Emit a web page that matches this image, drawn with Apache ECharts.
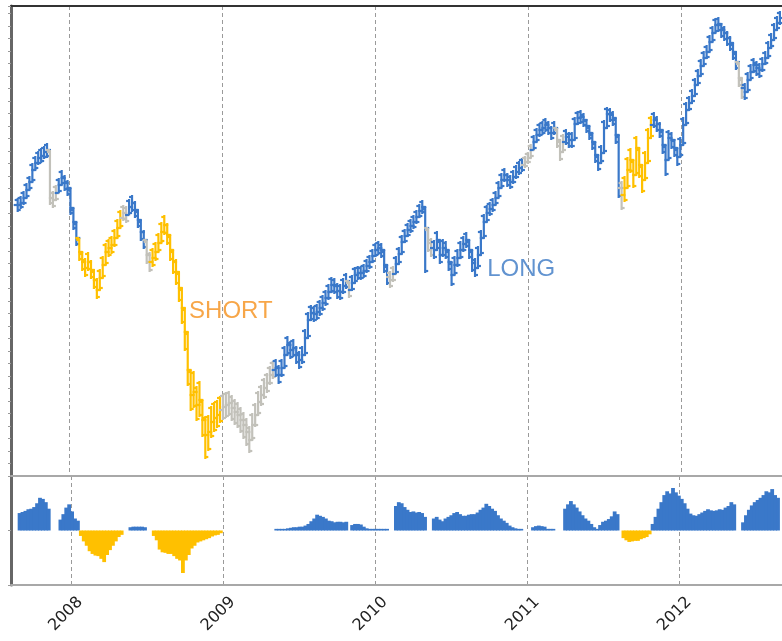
<!DOCTYPE html>
<html lang="en">
<head>
  <meta charset="UTF-8">
  <title>Long / Short</title>
  <style>
    html, body { margin: 0; padding: 0; background: #ffffff; }
    #main { width: 782px; height: 641px; }
  </style>
  <script src="https://cdn.jsdelivr.net/npm/echarts@6/dist/echarts.min.js"></script>
</head>
<body>
  <div id="main"></div>
  <script>
    // one bar per week, first week ends on this Friday
    var firstWeek = '2007-08-31';

    // weekly close / high / low of the index
    var close = [
      2284, 2292, 2312, 2344, 2376, 2424, 2452, 2472, 2480, 2496,
      2504, 2312, 2304, 2332, 2364, 2392, 2372, 2352, 2272, 2216,
      2152, 2096, 2056, 2032, 2056, 2024, 1984, 1944, 1992, 2044,
      2096, 2112, 2124, 2152, 2192, 2232, 2252, 2244, 2276, 2292,
      2264, 2224, 2176, 2144, 2084, 2056, 2072, 2096, 2132, 2176,
      2204, 2164, 2104, 2056, 2016, 1952, 1872, 1776, 1624, 1524,
      1536, 1484, 1504, 1424, 1364, 1376, 1416, 1432, 1444, 1464,
      1476, 1484, 1492, 1472, 1456, 1444, 1424, 1404, 1376, 1344,
      1404, 1444, 1496, 1524, 1552, 1572, 1604, 1624, 1632, 1604,
      1632, 1684, 1724, 1704, 1712, 1684, 1664, 1684, 1752, 1824,
      1852, 1848, 1856, 1872, 1892, 1912, 1936, 1964, 1960, 1940,
      1936, 1960, 1980, 1944, 1972, 2004, 2012, 2012, 2020, 2040,
      2056, 2080, 2104, 2112, 2104, 2044, 1996, 1984, 2008, 2048,
      2088, 2136, 2160, 2184, 2200, 2216, 2236, 2260, 2276, 2192,
      2132, 2112, 2104, 2144, 2084, 2112, 2104, 2056, 2004, 2044,
      2072, 2104, 2128, 2144, 2104, 2052, 2032, 2084, 2152, 2216,
      2252, 2268, 2284, 2312, 2352, 2384, 2404, 2384, 2376, 2396,
      2416, 2432, 2444, 2456, 2472, 2504, 2536, 2564, 2584, 2592,
      2604, 2592, 2572, 2592, 2544, 2496, 2536, 2556, 2544, 2544,
      2608, 2632, 2636, 2624, 2600, 2572, 2536, 2484, 2452, 2492,
      2592, 2648, 2644, 2632, 2564, 2352, 2324, 2352, 2424, 2464,
      2404, 2512, 2444, 2384, 2452, 2552, 2604, 2624, 2608, 2584,
      2524, 2464, 2552, 2544, 2512, 2476, 2524, 2604, 2664, 2692,
      2720, 2764, 2800, 2840, 2872, 2896, 2936, 2972, 3004, 3008,
      2984, 2972, 2952, 2932, 2896, 2856, 2792, 2752, 2736, 2784,
      2816, 2844, 2832, 2824, 2848, 2872, 2912, 2944, 2984, 3012,
      3032
    ];
    var high = [
      2312, 2320, 2340, 2372, 2400, 2452, 2480, 2500, 2512, 2520,
      2532, 2420, 2340, 2364, 2392, 2424, 2404, 2384, 2340, 2256,
      2196, 2136, 2092, 2072, 2096, 2064, 2024, 1992, 2028, 2080,
      2132, 2148, 2160, 2188, 2228, 2264, 2284, 2280, 2308, 2324,
      2300, 2264, 2216, 2184, 2128, 2096, 2112, 2136, 2172, 2216,
      2244, 2212, 2152, 2104, 2068, 2012, 1940, 1860, 1720, 1620,
      1620, 1560, 1580, 1500, 1440, 1444, 1480, 1496, 1504, 1520,
      1528, 1536, 1540, 1524, 1508, 1496, 1476, 1456, 1432, 1400,
      1452, 1492, 1540, 1564, 1592, 1612, 1640, 1660, 1668, 1644,
      1668, 1720, 1760, 1740, 1748, 1720, 1700, 1720, 1788, 1856,
      1884, 1880, 1888, 1904, 1924, 1944, 1968, 1996, 1992, 1972,
      1968, 1992, 2012, 1980, 2004, 2036, 2040, 2040, 2048, 2068,
      2084, 2108, 2132, 2140, 2132, 2080, 2032, 2020, 2040, 2080,
      2116, 2164, 2188, 2212, 2228, 2244, 2264, 2288, 2304, 2268,
      2172, 2152, 2144, 2180, 2124, 2148, 2140, 2096, 2044, 2080,
      2108, 2140, 2160, 2176, 2140, 2092, 2072, 2120, 2184, 2248,
      2284, 2296, 2312, 2340, 2380, 2412, 2432, 2412, 2404, 2424,
      2444, 2460, 2472, 2480, 2496, 2528, 2564, 2592, 2612, 2620,
      2632, 2620, 2600, 2620, 2576, 2532, 2568, 2588, 2576, 2576,
      2636, 2660, 2664, 2652, 2628, 2600, 2568, 2516, 2484, 2524,
      2624, 2676, 2672, 2660, 2600, 2420, 2380, 2400, 2476, 2512,
      2456, 2560, 2496, 2436, 2500, 2592, 2640, 2656, 2640, 2616,
      2560, 2500, 2584, 2576, 2548, 2512, 2556, 2636, 2696, 2720,
      2748, 2792, 2828, 2868, 2900, 2924, 2964, 3000, 3032, 3036,
      3012, 3000, 2980, 2960, 2928, 2888, 2828, 2792, 2772, 2816,
      2848, 2872, 2860, 2852, 2876, 2900, 2940, 2972, 3012, 3040,
      3060
    ];
    var low = [
      2256, 2268, 2284, 2316, 2348, 2392, 2428, 2444, 2452, 2468,
      2472, 2284, 2272, 2300, 2332, 2364, 2340, 2320, 2244, 2184,
      2120, 2060, 2020, 1996, 2020, 1988, 1948, 1908, 1956, 2004,
      2060, 2076, 2088, 2116, 2156, 2196, 2220, 2212, 2244, 2256,
      2232, 2192, 2140, 2108, 2048, 2016, 2036, 2060, 2096, 2136,
      2164, 2124, 2060, 2008, 1964, 1896, 1808, 1700, 1560, 1460,
      1472, 1420, 1436, 1356, 1268, 1300, 1352, 1376, 1392, 1412,
      1424, 1432, 1440, 1420, 1404, 1392, 1372, 1348, 1320, 1292,
      1344, 1396, 1452, 1480, 1508, 1532, 1564, 1588, 1596, 1568,
      1596, 1648, 1688, 1668, 1676, 1648, 1628, 1648, 1716, 1788,
      1820, 1816, 1824, 1840, 1860, 1880, 1904, 1932, 1928, 1908,
      1904, 1928, 1948, 1912, 1940, 1972, 1984, 1984, 1992, 2012,
      2028, 2052, 2076, 2084, 2072, 2012, 1964, 1952, 1976, 2016,
      2060, 2108, 2132, 2156, 2172, 2188, 2208, 2232, 2248, 2012,
      2096, 2076, 2068, 2108, 2048, 2076, 2068, 2020, 1960, 2008,
      2036, 2068, 2096, 2112, 2068, 2016, 1996, 2048, 2120, 2184,
      2220, 2240, 2256, 2284, 2324, 2356, 2376, 2356, 2348, 2368,
      2388, 2404, 2416, 2432, 2448, 2480, 2508, 2536, 2556, 2564,
      2576, 2564, 2544, 2564, 2512, 2460, 2504, 2524, 2512, 2512,
      2580, 2604, 2608, 2596, 2572, 2544, 2504, 2452, 2420, 2460,
      2560, 2620, 2616, 2600, 2528, 2312, 2264, 2296, 2376, 2412,
      2352, 2460, 2392, 2332, 2404, 2508, 2568, 2592, 2576, 2552,
      2488, 2400, 2516, 2508, 2476, 2440, 2488, 2572, 2632, 2660,
      2692, 2736, 2772, 2812, 2844, 2868, 2908, 2944, 2976, 2976,
      2952, 2940, 2920, 2900, 2864, 2824, 2756, 2708, 2704, 2752,
      2784, 2812, 2800, 2792, 2816, 2844, 2884, 2916, 2956, 2984,
      3004
    ];

    // position signal, lower panel: >0 long, <0 short, null = flat
    var signal = [
      0.32, 0.34, 0.36, 0.39, 0.40, 0.43, 0.50, 0.60, 0.58, 0.52,
      0.40, null, null, null, 0.20, 0.30, 0.42, 0.48, 0.35, 0.22,
      0.18, -0.10, -0.20, -0.28, -0.38, -0.43, -0.46, -0.47, -0.52, -0.58,
      -0.45, -0.36, -0.28, -0.20, -0.12, -0.08, null, null, 0.06, 0.07,
      0.07, 0.07, 0.07, 0.06, null, null, -0.10, -0.18, -0.35, -0.40,
      -0.41, -0.43, -0.43, -0.47, -0.52, -0.55, -0.78, -0.55, -0.45, -0.33,
      -0.28, -0.22, -0.20, -0.18, -0.16, -0.14, -0.11, -0.09, -0.08, -0.05,
      null, null, null, null, null, null, null, null, null, null,
      null, null, null, null, null, null, null, null, 0.03, 0.03,
      0.03, 0.03, 0.04, 0.05, 0.06, 0.06, 0.07, 0.07, 0.09, 0.12,
      0.17, 0.22, 0.29, 0.27, 0.25, 0.22, 0.18, 0.17, 0.15, 0.16,
      0.16, 0.15, 0.16, null, 0.10, 0.12, 0.12, 0.11, 0.07, 0.04,
      0.03, 0.03, 0.03, 0.03, 0.03, 0.03, 0.03, null, null, 0.45,
      0.52, 0.50, 0.43, 0.38, 0.34, 0.35, 0.33, 0.34, 0.32, 0.25,
      null, null, 0.22, 0.25, 0.20, 0.17, 0.22, 0.25, 0.28, 0.32,
      0.34, 0.30, 0.27, 0.27, 0.29, 0.30, 0.30, 0.33, 0.38, 0.42,
      0.49, 0.45, 0.40, 0.36, 0.28, 0.22, 0.18, 0.14, 0.09, 0.06,
      0.04, 0.03, 0.03, null, null, null, 0.06, 0.08, 0.09, 0.08,
      0.07, 0.03, 0.03, 0.03, null, null, null, 0.40, 0.48, 0.54,
      0.48, 0.42, 0.35, 0.28, 0.22, 0.18, 0.12, 0.06, 0.03, 0.10,
      0.16, 0.18, 0.21, 0.26, 0.35, 0.30, null, -0.14, -0.18, -0.21,
      -0.20, -0.19, -0.19, -0.16, -0.14, -0.12, -0.07, 0.12, 0.25, 0.40,
      0.52, 0.65, 0.72, 0.68, 0.78, 0.70, 0.64, 0.58, 0.50, 0.40,
      0.31, 0.28, 0.27, 0.30, 0.33, 0.36, 0.39, 0.37, 0.36, 0.37,
      0.39, 0.38, 0.42, 0.45, 0.52, 0.48, null, null, 0.15, 0.28,
      0.38, 0.46, 0.52, 0.56, 0.60, 0.65, 0.72, 0.70, 0.76, 0.65,
      0.60
    ];

    // text labels on the price panel
    var notes = [
      { text: 'SHORT', date: '2008-10-12', value: 1860, color: '#f5901a' },
      { text: 'LONG', date: '2010-09-24', value: 2028, color: '#3a78c4' }
    ];

    var BLUE = '#3a78c9';
    var GOLD = '#ffc000';
    var GREY = '#c2c1ba';

    var WEEK = 7 * 24 * 3600 * 1000;
    var YEAR = 365 * 24 * 3600 * 1000;
    var xMin = Date.parse('2007-08-15T00:00:00Z');
    var xMax = Date.parse('2012-08-29T00:00:00Z');
    var t0 = Date.parse(firstWeek + 'T00:00:00Z');

    var dates = close.map(function (c, i) { return t0 + i * WEEK; });

    function regimeColor(i) {
      var s = signal[i];
      if (s == null) return GREY;
      return s > 0 ? BLUE : GOLD;
    }

    // [date, open, close, low, high] - open is last week's close
    var ohlcData = dates.map(function (d, i) {
      return [d, i ? close[i - 1] : close[i], close[i], low[i], high[i]];
    });
    var signalData = dates.map(function (d, i) {
      return [d, signal[i] == null ? '-' : signal[i]];
    });

    // ohlc bar, with extra whiskers at the extremes so the band looks as busy as daily bars
    function renderOhlc(params, api) {
      var t = api.value(0);
      var o = api.coord([t, api.value(1)]);
      var c = api.coord([t, api.value(2)]);
      var l = api.coord([t, api.value(3)]);
      var h = api.coord([t, api.value(4)]);
      var x = c[0];
      var top = Math.min(h[1], o[1], c[1]);
      var bot = Math.max(l[1], o[1], c[1]);
      var style = { stroke: regimeColor(params.dataIndex), lineWidth: 2.2 };
      function seg(x1, y1, x2, y2) {
        return { type: 'line', shape: { x1: x1, y1: y1, x2: x2, y2: y2 }, style: style };
      }
      return {
        type: 'group',
        children: [
          seg(x, top, x, bot),
          seg(x - 4, o[1], x, o[1]),
          seg(x, c[1], x + 4, c[1]),
          seg(x - 3, top + 2, x, top + 2),
          seg(x, bot - 2, x + 3, bot - 2)
        ]
      };
    }

    var dashed = { show: true, lineStyle: { color: '#9a9a9a', width: 1, type: [4, 3] } };
    var leftAxisLine = { show: true, lineStyle: { color: '#666666', width: 3 } };
    var leftTicks = { show: true, inside: false, length: 3, lineStyle: { color: '#999999' } };

    var myChart = echarts.init(document.getElementById('main'));

    var option = {
      animation: false,
      useUTC: true,
      grid: [
        { left: 11, right: 0, top: 6, height: 470 },
        { left: 11, right: 0, top: 476, height: 109 }
      ],
      xAxis: [
        {
          // top border of the price panel + year lines
          gridIndex: 0, type: 'time', min: xMin, max: xMax, position: 'top',
          splitNumber: 5, minInterval: YEAR,
          axisLine: { show: true, onZero: false, lineStyle: { color: '#333333', width: 2 } },
          axisTick: { show: false }, axisLabel: { show: false },
          splitLine: dashed
        },
        {
          // line between the two panels
          gridIndex: 0, type: 'time', min: xMin, max: xMax, position: 'bottom',
          axisLine: { show: true, onZero: false, lineStyle: { color: '#a8a8a8', width: 2 } },
          axisTick: { show: false }, axisLabel: { show: false }, splitLine: { show: false }
        },
        {
          gridIndex: 1, type: 'time', min: xMin, max: xMax, position: 'bottom',
          splitNumber: 5, minInterval: YEAR,
          axisLine: { show: true, onZero: false, lineStyle: { color: '#a8a8a8', width: 2 } },
          axisTick: { show: false },
          axisLabel: {
            show: true, rotate: 45, align: 'center', verticalAlign: 'middle',
            margin: 24, padding: [0, 14, 0, 0],
            fontSize: 16, fontFamily: 'DejaVu Sans', color: '#222222',
            showMinLabel: false, showMaxLabel: false,
            formatter: function (v) { return String(new Date(v).getUTCFullYear()); }
          },
          splitLine: dashed
        }
      ],
      yAxis: [
        {
          gridIndex: 0, type: 'value', min: 1200, max: 3080, interval: 50,
          axisLine: leftAxisLine, axisTick: leftTicks,
          axisLabel: { show: false }, splitLine: { show: false }
        },
        {
          gridIndex: 1, type: 'value', min: -1, max: 1, interval: 1,
          axisLine: leftAxisLine, axisTick: leftTicks,
          axisLabel: { show: false }, splitLine: { show: false }
        }
      ],
      series: [
        {
          name: 'price',
          type: 'custom',
          xAxisIndex: 0, yAxisIndex: 0,
          renderItem: renderOhlc,
          encode: { x: 0, y: [1, 2, 3, 4] },
          data: ohlcData,
          clip: true,
          silent: true
        },
        {
          name: 'signal',
          type: 'bar',
          xAxisIndex: 2, yAxisIndex: 1,
          barWidth: 3.8,
          data: signalData,
          itemStyle: {
            color: function (p) { return p.value[1] >= 0 ? BLUE : GOLD; }
          },
          silent: true
        },
        {
          name: 'notes',
          type: 'scatter',
          xAxisIndex: 0, yAxisIndex: 0,
          symbolSize: 1,
          itemStyle: { color: 'rgba(0,0,0,0)' },
          label: {
            show: true, position: 'right', distance: 0,
            fontSize: 24, fontFamily: 'Liberation Sans',
            formatter: '{b}'
          },
          data: notes.map(function (n) {
            return {
              name: n.text,
              value: [Date.parse(n.date + 'T00:00:00Z'), n.value],
              label: { color: n.color }
            };
          }),
          silent: true
        }
      ]
    };

    myChart.setOption(option);
  </script>
</body>
</html>
